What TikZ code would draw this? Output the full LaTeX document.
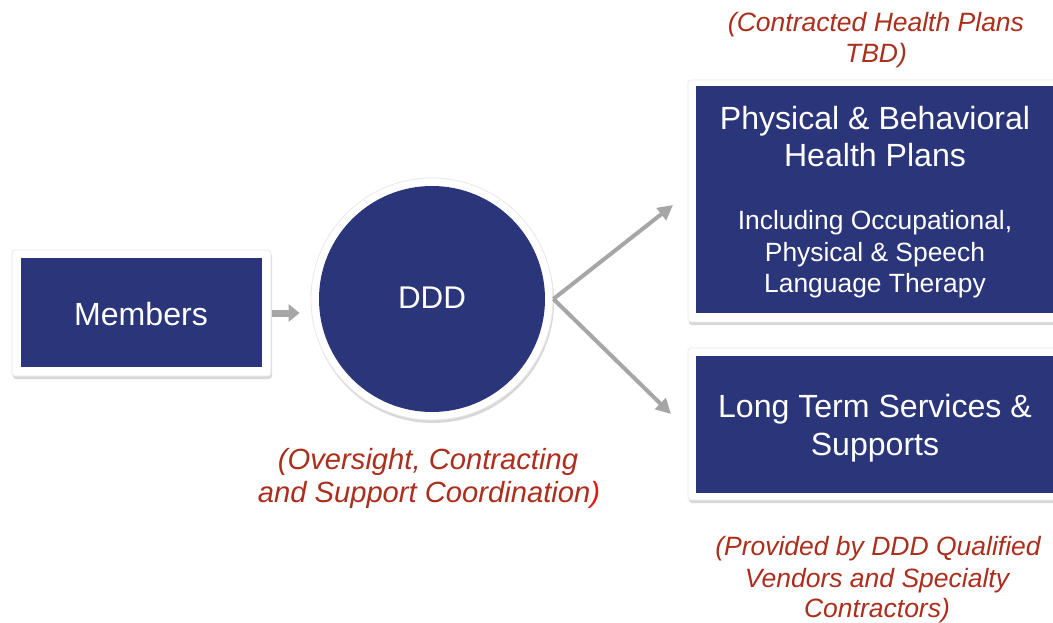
\documentclass[tikz,border=0pt]{standalone}
\usepackage{fontspec}
\setmainfont{Liberation Sans}
\usetikzlibrary{arrows.meta,shadows}
\definecolor{dblue}{RGB}{43,54,122}
\definecolor{nred}{RGB}{172,46,28}
\definecolor{bred}{RGB}{235,20,20}
\definecolor{agray}{RGB}{166,166,166}
\tikzset{
  frame/.style={fill=white,draw=black!9,line width=0.8bp,rounded corners=3bp,inner sep=0pt,
    drop shadow={opacity=0.3,shadow xshift=1bp,shadow yshift=-3bp}},
  core/.style={fill=dblue,draw=none,inner sep=0pt},
  big/.style={text=white,anchor=base,inner sep=0pt,font=\fontsize{32.2}{37}\selectfont},
  small/.style={text=white,anchor=base,inner sep=0pt,font=\fontsize{26.5}{32}\selectfont},
  note/.style={text=nred,anchor=base,inner sep=0pt,font=\fontsize{26.6}{31}\selectfont\itshape},
  bignote/.style={note,font=\fontsize{29.3}{33}\selectfont\itshape},
  conn/.style={draw=agray,line width=4bp,-{Triangle[length=15bp,width=15bp]}}
}
\begin{document}
\begin{tikzpicture}[x=1bp,y=-1bp]
\useasboundingbox (0,0) rectangle (1053,623);
\clip (0,0) rectangle (1053,623);
\fill[white] (0,0) rectangle (1053,623);
% frames
\node[frame,minimum width=259bp,minimum height=126bp] (memf) at (141.5,313) {};
\node[frame,circle,minimum size=242bp] (ddd) at (432,299) {};
\node[frame,minimum width=380bp,minimum height=242bp] (topf) at (878,201) {};
\node[frame,minimum width=380bp,minimum height=152bp] (botf) at (878,424) {};
% cores
\node[core,minimum width=241bp,minimum height=109bp] (mem) at (141.5,312.5) {};
\node[core,circle,minimum size=226bp] (dddc) at (432,299) {};
\node[core,minimum width=370bp,minimum height=227bp] (topc) at (881,199.5) {};
\node[core,minimum width=370bp,minimum height=137bp] (botc) at (881,424.5) {};
% texts
\node[big] (tm) at (141,325) {Members};
\node[big,font=\fontsize{31.5}{37}\selectfont] (td) at (432,309) {DDD};
\node[big] (t1) at (875,130) {Physical \& Behavioral};
\node[big] (t2) at (875,167) {Health Plans};
\node[small] (t3) at (875,230) {Including Occupational,};
\node[small] (t4) at (875,262) {Physical \& Speech};
\node[small] (t5) at (875,293) {Language Therapy};
\node[big] (t6) at (875,417) {Long Term Services \&};
\node[big] (t7) at (875,455) {Supports};
% notes
\node[note] (n1) at (876,32) {(Contracted Health Plans};
\node[note] (n2) at (876,63) {TBD)};
\node[bignote] (n3) at (428,469) {(Oversight, Contracting};
\node[bignote] (n4) at (429,502) {and Support Coordination\textcolor{bred}{)}};
\node[note] (n5) at (878,555) {(Provided by DDD Qualified};
\node[note] (n6) at (877,587) {Vendors and Specialty};
\node[note] (n7) at (877,617) {Contractors)};
% connectors
\coordinate (e1) at (673,205);
\coordinate (e2) at (671,414);
\draw[agray,line width=7bp,-{Triangle[length=11bp,width=17bp]},shorten >=11bp,shorten <=1bp] (memf.east) -- (memf.east -| ddd.west);
\draw[conn] (ddd.east) -- (e1);
\draw[conn] (ddd.east) -- (e2);
\end{tikzpicture}
\end{document}
